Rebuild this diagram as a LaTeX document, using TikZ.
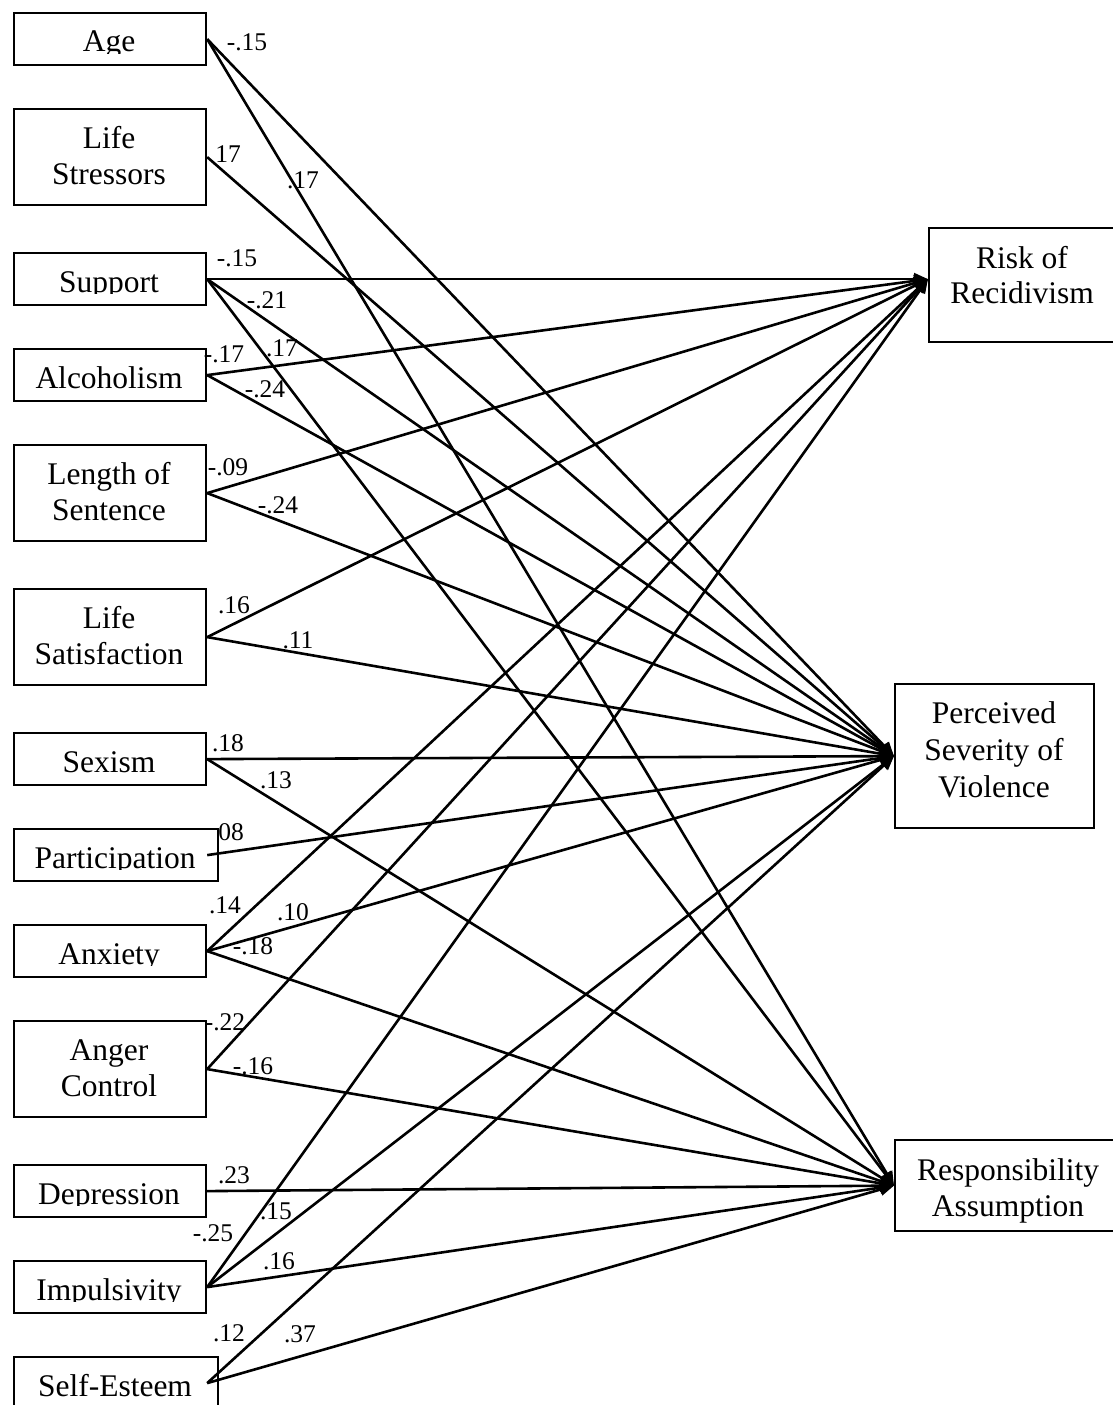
\documentclass[tikz,border=0pt]{standalone}
\usepackage{fontspec}
\setmainfont{Liberation Serif}
\usetikzlibrary{arrows.meta}
\newcommand\mkone[4]{%
  \node[box, minimum width=#3pt, minimum height=52pt] (#1) at (13,#2) {};
  \begin{scope}
    \clip (13,#2) rectangle ++(#3,41.5);
    \node[txt] (#1-t) at ({13+#3/2},{#2+40}) {#4};
  \end{scope}}
\newcommand\mktwo[5]{%
  \node[box, minimum width=#3pt, minimum height=96pt] (#1) at (13,#2) {};
  \node[txt] (#1-a) at ({13+#3/2},{#2+40}) {#4};
  \node[txt] (#1-b) at ({13+#3/2},{#2+76}) {#5};}
\begin{document}
\begin{tikzpicture}[x=1pt,y=-1pt,
  box/.style={draw, line width=2.2pt, inner sep=0pt, anchor=north west},
  txt/.style={anchor=base, inner sep=0pt, font=\fontsize{31.5}{36}\selectfont},
  coef/.style={inner sep=0pt, font=\fontsize{25.5}{30}\selectfont},
  link/.style={line width=2.6pt, -{Triangle[length=14pt,width=12pt]}}]
\useasboundingbox (0,0) rectangle (1112,1405);

% left column
\mkone{age}{12}{192}{Age}
\mktwo{ls}{108}{192}{Life}{Stressors}
\mkone{sup}{252}{192}{Support}
\mkone{alc}{348}{192}{Alcoholism}
\mktwo{len}{444}{192}{Length of}{Sentence}
\mktwo{lsat}{588}{192}{Life}{Satisfaction}
\mkone{sex}{732}{192}{Sexism}
\mkone{part}{828}{204}{Participation}
\mkone{anx}{924}{192}{Anxiety}
\mktwo{ang}{1020}{192}{Anger}{Control}
\mkone{dep}{1164}{192}{Depression}
\mkone{imp}{1260}{192}{Impulsivity}
\mkone{se}{1356}{204}{Self-Esteem}

% right column
\node[box, minimum width=188pt, minimum height=114pt] (risk) at (928,227) {};
\node[txt] (risk-a) at (1022,268) {Risk of};
\node[txt] (risk-b) at (1022,303) {Recidivism};
\node[box, minimum width=199pt, minimum height=144pt] (psv) at (894,683) {};
\node[txt] (psv-a) at (994,723) {Perceived};
\node[txt] (psv-b) at (994,760) {Severity of};
\node[txt] (psv-c) at (994,797) {Violence};
\node[box, minimum width=228pt, minimum height=91pt] (ra) at (894,1139) {};
\node[txt] (ra-a) at (1008,1180) {Responsibility};
\node[txt] (ra-b) at (1008,1216) {Assumption};

% connector ends
\coordinate (risk-in) at ([yshift=6pt]risk.west);
\coordinate (part-o) at ([xshift=-12pt]part.east);
\coordinate (se-o) at ([xshift=-12pt]se.east);

% paths
\draw[link] (age.east) -- (psv.west);
\draw[link] (age.east) -- (ra.west);
\draw[link] (ls.east) -- (psv.west);
\draw[link] (sup.east) -- (risk-in);
\draw[link] (sup.east) -- (psv.west);
\draw[link] (sup.east) -- (ra.west);
\draw[link] (alc.east) -- (risk-in);
\draw[link] (alc.east) -- (psv.west);
\draw[link] (len.east) -- (risk-in);
\draw[link] (len.east) -- (psv.west);
\draw[link] (lsat.east) -- (risk-in);
\draw[link] (lsat.east) -- (psv.west);
\draw[link] (sex.east) -- (psv.west);
\draw[link] (sex.east) -- (ra.west);
\draw[link] (part-o) -- (psv.west);
\draw[link] (anx.east) -- (risk-in);
\draw[link] (anx.east) -- (psv.west);
\draw[link] (anx.east) -- (ra.west);
\draw[link] (ang.east) -- (risk-in);
\draw[link] (ang.east) -- (ra.west);
\draw[link] (dep.east) -- (ra.west);
\draw[link] (imp.east) -- (risk-in);
\draw[link] (imp.east) -- (psv.west);
\draw[link] (imp.east) -- (ra.west);
\draw[link] (se-o) -- (psv.west);
\draw[link] (se-o) -- (ra.west);

% coefficients
\foreach \x/\y/\t [count=\i] in {
  247/42/-.15, 303/180/.17, 228/154/17,
  237/258/-.15, 267/300/-.21, 282/348/.17,
  224/354/-.17, 265/389/-.24,
  228/467/-.09, 278/505/-.24,
  234/605/.16, 298/640/.11,
  228/743/.18, 276/780/.13,
  231/832/08,
  225/905/.14, 293/912/.10, 253/946/-.18,
  225/1022/-.22, 253/1066/-.16,
  234/1175/.23,
  213/1233/-.25, 276/1211/.15, 279/1261/.16,
  229/1333/.12, 300/1334/.37}
  \node[coef] (c\i) at (\x,\y) {\t};
\end{tikzpicture}
\end{document}
